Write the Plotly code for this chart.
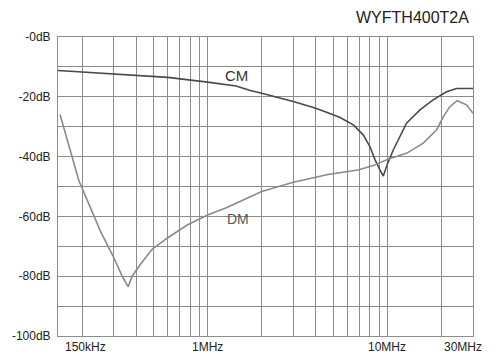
import math
import plotly.graph_objects as go

# Insertion loss curves (frequency in MHz, loss in dB)
cm_freq = [0.147, 0.3, 0.6, 1.0, 1.44, 1.73, 2.0, 3.0, 4.0, 5.0, 5.46, 6.47, 7.36, 8.01,
           8.54, 9.12, 9.5, 10.09, 10.8, 12.8, 15.2, 18.0, 21.4, 24.3, 30.0]
cm_db = [-11.2, -12.4, -13.5, -15.1, -16.4, -17.9, -18.8, -21.6, -23.8, -26.0, -26.9, -29.4,
         -32.8, -36.7, -41.0, -44.5, -46.5, -42.0, -37.8, -28.8, -24.4, -21.0, -18.3, -17.2, -17.2]

dm_freq = [0.151, 0.192, 0.2535, 0.299, 0.3345, 0.361, 0.38, 0.423, 0.491, 0.595, 0.769,
           1.0, 1.28, 1.73, 2.0, 3.0, 4.68, 6.87, 8.36, 10.35, 12.8, 15.85, 18.8, 20.5,
           22.3, 24.5, 27.6, 30.0]
dm_db = [-26.0, -48.0, -65.0, -73.5, -80.0, -83.5, -80.0, -76.0, -71.0, -67.3, -62.9,
         -59.5, -57.0, -53.5, -51.7, -48.6, -46.0, -44.5, -43.0, -40.6, -38.9, -35.5, -31.1,
         -26.7, -23.3, -21.3, -22.7, -25.5]

grid_freqs = [0.2, 0.3, 0.4, 0.5, 0.6, 0.7, 0.8, 0.9, 1, 2, 3, 4, 5, 6, 7, 8, 9, 10, 20, 30]
y_ticks = [0, -10, -20, -30, -40, -50, -60, -70, -80, -90, -100]
y_labels = ["-0dB", "", "-20dB", "", "-40dB", "", "-60dB", "", "-80dB", "", "-100dB"]

font = "Liberation Sans, Arial, sans-serif"
grid = "#8c8c8c"

fig = go.Figure()
fig.add_trace(go.Scatter(x=cm_freq, y=cm_db, mode="lines", name="CM",
                         line=dict(color="#4a4a4a", width=1.6)))
fig.add_trace(go.Scatter(x=dm_freq, y=dm_db, mode="lines", name="DM",
                         line=dict(color="#8a8a8a", width=1.6)))

fig.update_xaxes(type="log", range=[math.log10(0.147), math.log10(30)],
                 tickvals=grid_freqs, showticklabels=False, automargin=False,
                 showgrid=True, gridcolor=grid, gridwidth=1,
                 showline=True, linecolor=grid, linewidth=1, mirror=True,
                 zeroline=False)
fig.update_yaxes(range=[-100, 0], tickvals=y_ticks, ticktext=y_labels, automargin=False,
                 showgrid=True, gridcolor=grid, gridwidth=1,
                 showline=True, linecolor=grid, linewidth=1, mirror=True,
                 zeroline=False, ticks="", ticklabelstandoff=4,
                 tickfont=dict(family=font, size=12, color="#222"))

# x labels, placed like the original (edge labels pulled inward)
x_labels = [(0.15, "150kHz", "left"), (1, "1MHz", "center"), (10, "10MHz", "center"),
            (30, "30MHz", "right")]
for f, txt, anc in x_labels:
    fig.add_annotation(x=math.log10(f), y=0, xref="x", yref="paper", yanchor="top",
                       xanchor=anc, xshift=(3 if anc == "left" else (11 if anc == "right" else 0)),
                       yshift=-2, text=txt, showarrow=False,
                       font=dict(family=font, size=12, color="#222"))

fig.add_annotation(x=math.log10(1.45), y=-13, text="CM", showarrow=False,
                   font=dict(family=font, size=15, color="#333"))
fig.add_annotation(x=math.log10(1.48), y=-61, text="DM", showarrow=False,
                   font=dict(family=font, size=14, color="#555"))
fig.add_annotation(x=1, y=1, xref="paper", yref="paper", xanchor="right", yanchor="bottom",
                   xshift=-2, yshift=9, text="WYFTH400T2A", showarrow=False,
                   font=dict(family=font, size=16, color="#222"))

# page body adds an 8px margin, so the figure is sized 8px smaller and margins trimmed
fig.update_layout(width=490, height=346, showlegend=False,
                  paper_bgcolor="white", plot_bgcolor="white",
                  margin=dict(l=50, r=25, t=29, b=18))
fig.write_html("out.html")
